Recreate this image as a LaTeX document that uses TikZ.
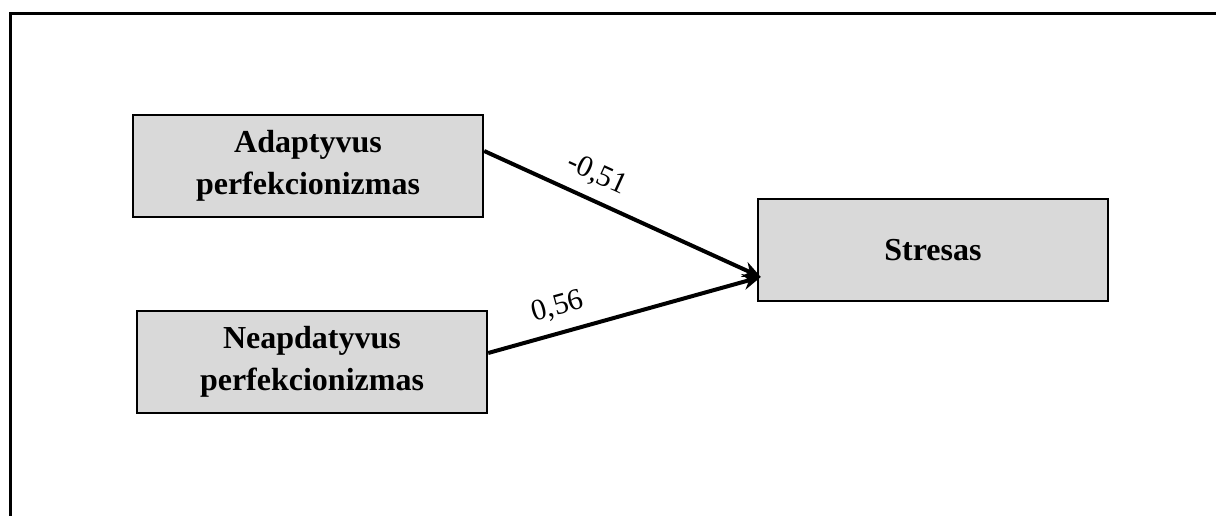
\documentclass[tikz,border=0pt]{standalone}
\usepackage{fontspec}
\setmainfont{Liberation Serif}
\usepackage{tikz}
\usetikzlibrary{arrows.meta, positioning}
\definecolor{boxcolor}{RGB}{217, 217, 217}

\begin{document}
\begin{tikzpicture}[x=0.5pt, y=-0.5pt,
        varbox/.style={draw, line width=1.2pt, fill=boxcolor, minimum width=175pt, minimum height=51pt, align=center, font=\fontsize{16}{21}\selectfont\bfseries},
        link/.style={-{Stealth[length=9pt, width=8pt]}, line width=2pt},
        weight/.style={sloped, above, inner sep=5.5pt, font=\fontsize{15}{18}\selectfont}]
    \useasboundingbox (0, 0) rectangle (1216, 515);

    % Open frame
    \draw[line width=1.5pt] (1230, 13) -- (10.5, 13) -- (10.5, 530);

    % Variable boxes
    \node[varbox] (adapt) at (308, 166) {Adaptyvus\\perfekcionizmas};
    \node[varbox] (neapd) at (312, 362) {Neapdatyvus\\perfekcionizmas};
    \node[varbox] (stres) at (933, 250) {Stresas};

    % Path arrows
    \draw[link] ([yshift=7.5pt]adapt.east) -- node[weight, pos=0.37] {-0,51} ([yshift=-13.5pt, xshift=2pt]stres.west);
    \draw[link] ([yshift=4.5pt]neapd.east) -- node[weight, pos=0.28] {0,56} ([yshift=-13.5pt, xshift=2pt]stres.west);
\end{tikzpicture}
\end{document}
